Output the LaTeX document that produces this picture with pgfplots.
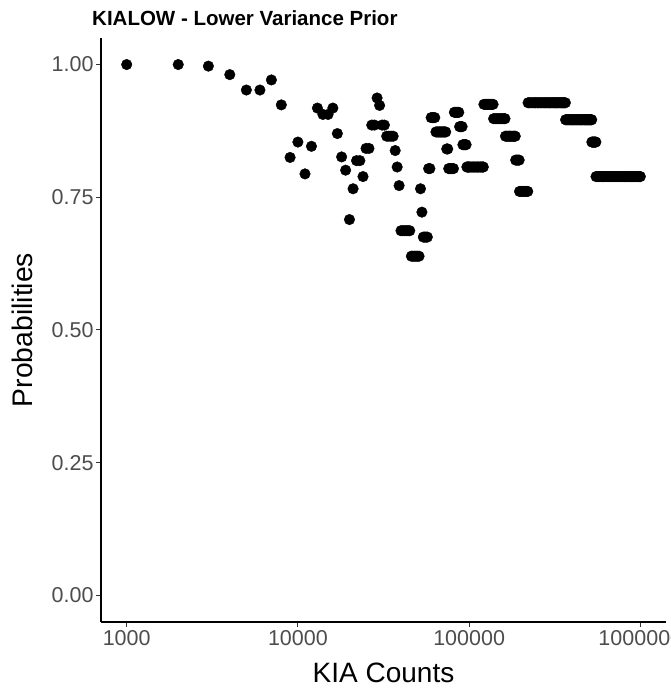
\documentclass[border=0pt]{standalone}
\usepackage{fontspec}
\setmainfont{Liberation Sans}
\usepackage{pgfplots}
\pgfplotsset{compat=1.18}
\definecolor{ticklab}{HTML}{4D4D4D}
\definecolor{tickcol}{HTML}{333333}
\begin{document}
\begin{tikzpicture}
\begin{axis}[
  scale only axis, width=565pt, height=584pt,
  xmode=log, xmin=707.9, xmax=1412538, ymin=-0.05, ymax=1.05,
  axis x line*=bottom, axis y line*=left,
  axis line style={black, line width=1.1pt},
  xtick={1000,10000,100000,1000000}, xticklabels={1000,10000,100000,1000000},
  ytick={0,0.25,0.5,0.75,1}, yticklabels={0.00,0.25,0.50,0.75,1.00},
  xminorticks=false, yminorticks=false,
  tick align=outside, major tick length=5pt,
  tick style={tickcol, line width=1pt},
  tick label style={font=\fontsize{21.5}{25}\selectfont, text=ticklab},
  yticklabel style={xshift=1pt},
  /pgf/number format/assume math mode=true,
]
\addplot[only marks, mark=*, mark size=5.3pt, mark options={fill=black, draw=none}] table[row sep=\\]{
x y\\
1000 1.000\\ 2000 1.000\\ 3000 0.997\\ 4000 0.981\\ 5000 0.952\\ 6000 0.952\\ 7000 0.971\\ 8000 0.924\\ 9000 0.825\\
10000 0.854\\ 11000 0.794\\ 12000 0.846\\ 13000 0.918\\ 14000 0.906\\ 15000 0.906\\ 16000 0.918\\ 17000 0.870\\ 18000 0.826\\ 19000 0.801\\
20000 0.708\\ 21000 0.766\\ 22000 0.819\\ 23000 0.819\\ 24000 0.789\\ 25000 0.842\\ 26000 0.842\\ 27000 0.886\\ 28000 0.886\\ 29000 0.937\\
30000 0.923\\ 31000 0.886\\ 32000 0.886\\ 33000 0.865\\ 34000 0.865\\ 35000 0.865\\ 36000 0.865\\ 37000 0.838\\ 38000 0.807\\ 39000 0.772\\
40000 0.687\\ 41000 0.687\\ 42000 0.687\\ 43000 0.687\\ 44000 0.687\\ 45000 0.687\\
46000 0.639\\ 47000 0.639\\ 48000 0.639\\ 49000 0.639\\ 50000 0.639\\ 51000 0.639\\
52000 0.766\\ 53000 0.722\\
54000 0.675\\ 55000 0.675\\ 56000 0.675\\ 57000 0.675\\
58000 0.804\\ 59000 0.804\\
60000 0.900\\ 61000 0.900\\ 62000 0.900\\ 63000 0.900\\
64000 0.873\\ 65000 0.873\\ 66000 0.873\\ 67000 0.873\\ 68000 0.873\\ 69000 0.873\\ 70000 0.873\\ 71000 0.873\\ 72000 0.873\\ 73000 0.873\\
74000 0.841\\ 75000 0.841\\
76000 0.804\\ 77000 0.804\\ 78000 0.804\\ 79000 0.804\\ 80000 0.804\\ 81000 0.804\\
82000 0.910\\ 83000 0.910\\ 84000 0.910\\ 85000 0.910\\ 86000 0.910\\ 87000 0.910\\
88000 0.883\\ 89000 0.883\\ 90000 0.883\\ 91000 0.883\\
92000 0.849\\ 93000 0.849\\ 94000 0.849\\ 95000 0.849\\ 96000 0.849\\
97000 0.807\\ 98000 0.807\\ 99000 0.807\\ 100000 0.807\\ 102000 0.807\\ 104000 0.807\\ 106000 0.807\\ 108000 0.807\\ 110000 0.807\\ 112000 0.807\\ 114000 0.807\\ 116000 0.807\\ 118000 0.807\\ 120000 0.807\\ 121000 0.807\\
122000 0.925\\ 124000 0.925\\ 126000 0.925\\ 128000 0.925\\ 130000 0.925\\ 132000 0.925\\ 134000 0.925\\ 136000 0.925\\ 138000 0.925\\
139000 0.898\\ 142000 0.898\\ 145000 0.898\\ 148000 0.898\\ 151000 0.898\\ 154000 0.898\\ 157000 0.898\\ 160000 0.898\\ 162000 0.898\\
163000 0.865\\ 166000 0.865\\ 169000 0.865\\ 172000 0.865\\ 175000 0.865\\ 178000 0.865\\ 181000 0.865\\ 184000 0.865\\ 186000 0.865\\
187000 0.820\\ 190000 0.820\\ 193000 0.820\\ 196000 0.820\\
197000 0.761\\ 200000 0.761\\ 204000 0.761\\ 208000 0.761\\ 212000 0.761\\ 216000 0.761\\ 220000 0.761\\
221000 0.928\\ 225000 0.928\\ 230000 0.928\\ 235000 0.928\\ 240000 0.928\\ 245000 0.928\\ 250000 0.928\\ 255000 0.928\\ 260000 0.928\\ 265000 0.928\\
270000 0.928\\ 275000 0.928\\ 280000 0.928\\ 285000 0.928\\ 290000 0.928\\ 295000 0.928\\ 300000 0.928\\ 305000 0.928\\ 310000 0.928\\ 315000 0.928\\
320000 0.928\\ 325000 0.928\\ 330000 0.928\\ 335000 0.928\\ 340000 0.928\\ 345000 0.928\\ 350000 0.928\\ 355000 0.928\\ 360000 0.928\\ 365000 0.928\\
366000 0.896\\ 370000 0.896\\ 375000 0.896\\ 380000 0.896\\ 385000 0.896\\ 390000 0.896\\ 395000 0.896\\ 400000 0.896\\ 405000 0.896\\ 410000 0.896\\
415000 0.896\\ 420000 0.896\\ 425000 0.896\\ 430000 0.896\\ 435000 0.896\\ 440000 0.896\\ 445000 0.896\\ 450000 0.896\\ 455000 0.896\\ 460000 0.896\\
465000 0.896\\ 470000 0.896\\ 475000 0.896\\ 480000 0.896\\ 485000 0.896\\ 490000 0.896\\ 495000 0.896\\ 500000 0.896\\ 505000 0.896\\ 510000 0.896\\
515000 0.896\\ 520000 0.896\\
521000 0.854\\ 525000 0.854\\ 530000 0.854\\ 535000 0.854\\ 540000 0.854\\ 545000 0.854\\ 550000 0.854\\
551000 0.789\\ 560000 0.789\\ 570000 0.789\\ 580000 0.789\\ 590000 0.789\\ 600000 0.789\\ 610000 0.789\\ 620000 0.789\\ 630000 0.789\\ 640000 0.789\\
650000 0.789\\ 660000 0.789\\ 670000 0.789\\ 680000 0.789\\ 690000 0.789\\ 700000 0.789\\ 710000 0.789\\ 720000 0.789\\ 730000 0.789\\ 740000 0.789\\
750000 0.789\\ 760000 0.789\\ 770000 0.789\\ 780000 0.789\\ 790000 0.789\\ 800000 0.789\\ 810000 0.789\\ 820000 0.789\\ 830000 0.789\\ 840000 0.789\\
850000 0.789\\ 860000 0.789\\ 870000 0.789\\ 880000 0.789\\ 890000 0.789\\ 900000 0.789\\ 910000 0.789\\ 920000 0.789\\ 930000 0.789\\ 940000 0.789\\
950000 0.789\\ 960000 0.789\\ 970000 0.789\\ 980000 0.789\\ 990000 0.789\\ 1000000 0.789\\
};
\coordinate (SW) at (rel axis cs:0,0);
\coordinate (NE) at (rel axis cs:1,1);
\coordinate (NW) at (rel axis cs:0,1);
\coordinate (XL) at (rel axis cs:0.5,0);
\coordinate (YL) at (rel axis cs:0,0.5);
\end{axis}
\node[anchor=base west, font=\fontsize{20.5}{24}\selectfont\bfseries, inner sep=0pt] at ([xshift=-9pt,yshift=12pt]NW) {KIALOW - Lower Variance Prior};
\node[anchor=base, font=\fontsize{28}{33}\selectfont, inner sep=0pt] at ([yshift=-60pt]XL) {KIA Counts};
\node[anchor=base, rotate=90, font=\fontsize{28.3}{33}\selectfont, inner sep=0pt] at ([xshift=-68pt]YL) {Probabilities};
\pgfresetboundingbox
\path[use as bounding box] ([xshift=-101pt,yshift=-68pt]SW) rectangle ([xshift=5pt,yshift=38pt]NE);
\end{tikzpicture}
\end{document}
